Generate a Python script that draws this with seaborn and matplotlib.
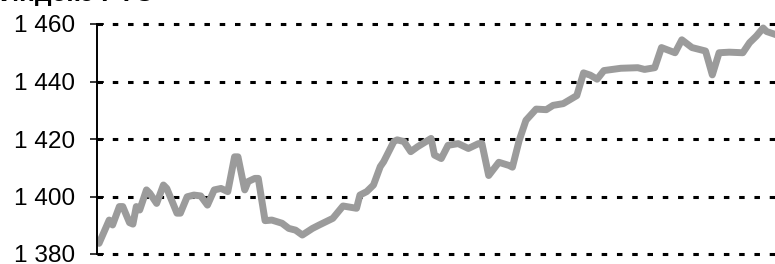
import matplotlib
matplotlib.use('Agg')
import matplotlib.pyplot as plt
import seaborn as sns
import pandas as pd

# Index values (trading day number, index level)
days = [0, 3, 4, 6, 7, 9, 10, 11, 12, 14, 15, 17, 19, 20, 23, 24, 26, 28, 30,
        32, 34, 36, 38, 40, 41, 43, 44, 46, 47, 49, 51, 54, 56, 58, 60, 63, 65,
        69, 72, 74, 76, 77, 79, 81, 83, 84, 87, 88, 90, 92, 94, 98, 99, 101,
        103, 106, 109, 112, 113, 115, 118, 121, 122, 124, 126, 129, 132, 134,
        137, 141, 143, 145, 147, 149, 154, 159, 161, 164, 166, 170, 172, 175,
        179, 181, 183, 186, 190, 192, 194, 196, 197, 200]
index_level = [1383.7, 1391.8, 1390.1, 1396.5, 1396.5, 1390.9, 1390.4, 1396.5,
               1395.3, 1402.3, 1401.1, 1397.6, 1404.0, 1402.8, 1394.2, 1394.2,
               1399.9, 1400.5, 1400.2, 1397.0, 1402.3, 1402.8, 1401.7, 1413.8,
               1413.8, 1402.3, 1405.2, 1406.3, 1406.3, 1391.6, 1391.8, 1390.7,
               1388.9, 1388.3, 1386.6, 1388.9, 1390.1, 1392.4, 1396.7, 1396.3,
               1395.9, 1400.5, 1401.7, 1404.0, 1410.4, 1412.1, 1419.1, 1419.7,
               1419.1, 1415.6, 1417.3, 1420.2, 1414.4, 1413.2, 1417.8, 1418.4,
               1416.7, 1418.4, 1418.4, 1407.3, 1411.9, 1410.8, 1410.2, 1419.5,
               1426.5, 1430.4, 1430.2, 1431.7, 1432.3, 1435.1, 1443.0, 1442.2,
               1440.8, 1443.8, 1444.6, 1444.8, 1444.2, 1444.8, 1451.8, 1450.0,
               1454.5, 1451.8, 1450.6, 1442.3, 1450.0, 1450.2, 1450.0, 1453.5,
               1455.8, 1458.6, 1457.4, 1456.2]
y_ticks = [1380, 1400, 1420, 1440, 1460]
y_tick_labels = ['1 380', '1 400', '1 420', '1 440', '1 460']
title = 'Индекс РТС'

df = pd.DataFrame({'day': days, 'value': index_level})

sns.set_theme(style='white')
plt.rcParams['font.family'] = ['Liberation Sans', 'DejaVu Sans']

fig = plt.figure(figsize=(7.75, 2.64), dpi=100)
ax = fig.add_axes([97 / 775, 1 - 254 / 264, 1 - 97 / 775, (254 - 24) / 264])

sns.lineplot(data=df, x='day', y='value', ax=ax, color='#9b9b9b', linewidth=5.0)

ax.set_xlim(-0.6, 199.5)
ax.set_ylim(1380, 1460)
ax.set_yticks(y_ticks)
ax.set_yticklabels(y_tick_labels)
ax.set_xticks([])
ax.set_xlabel('')
ax.set_ylabel('')

# dotted horizontal grid
ax.yaxis.grid(True, color='black', linewidth=2.2, linestyle=(0, (1.8, 3.2)))
for gl in ax.yaxis.get_gridlines():
    gl.set_clip_on(False)
ax.set_axisbelow(True)

for side in ['top', 'right', 'bottom']:
    ax.spines[side].set_visible(False)
ax.spines['left'].set_color('black')
ax.spines['left'].set_linewidth(1.4)
ax.tick_params(axis='y', direction='inout', length=9.4, width=1.1, color='black',
               pad=10.8, labelsize=17.6, labelcolor='black', left=True)

# title sits mostly above the visible area
fig.text(0.0, 1 - 1.5 / 264, title, fontsize=19, fontweight='bold', color='black',
         va='baseline', ha='left')

fig.savefig('out.png', dpi=100)
